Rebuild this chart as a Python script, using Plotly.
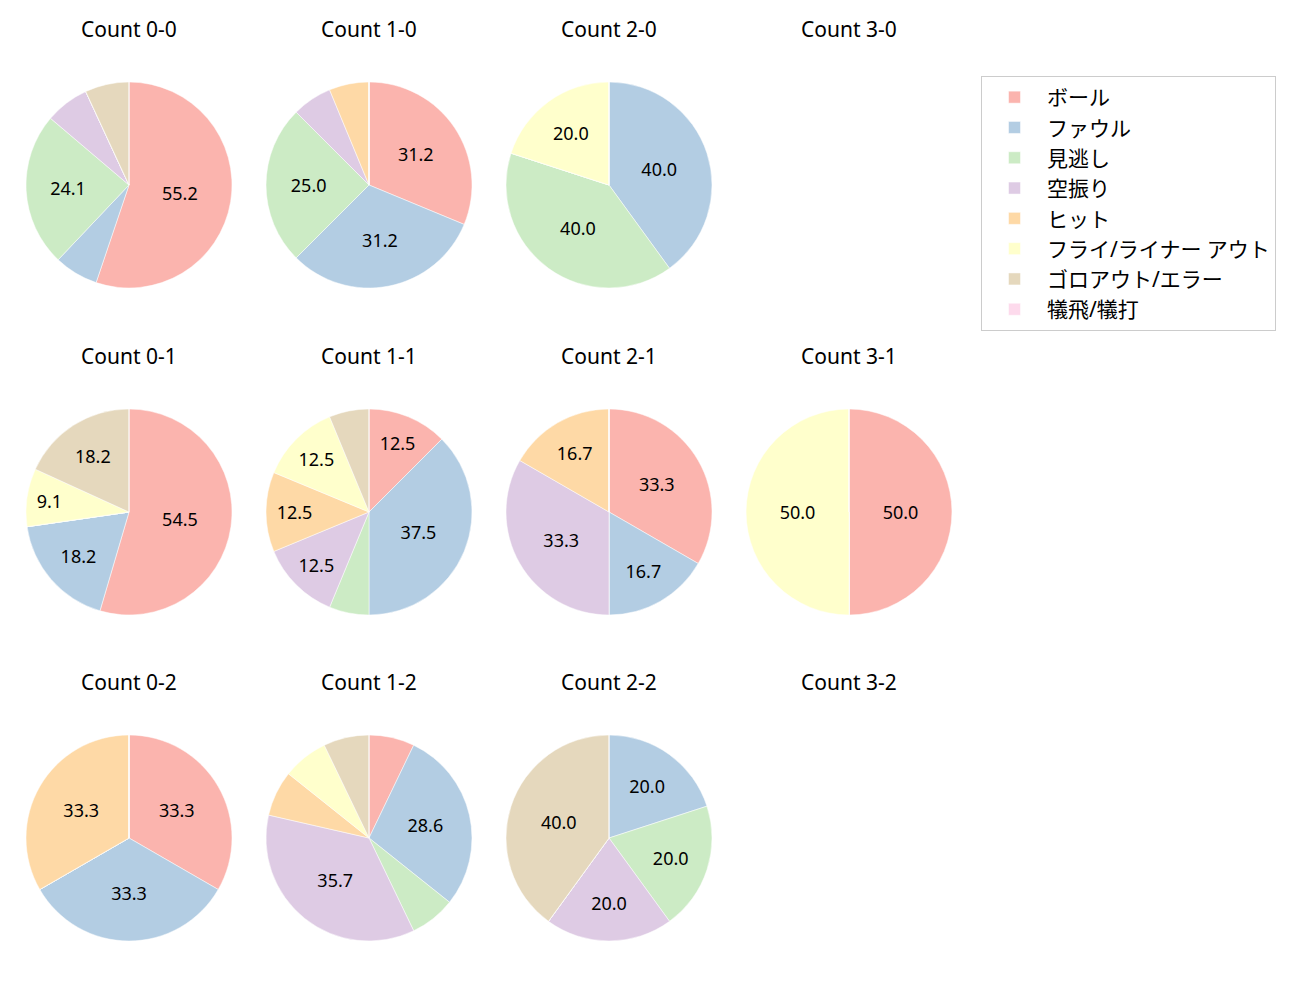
import plotly.graph_objects as go

labels = ["ボール", "ファウル", "見逃し", "空振り", "ヒット",
          "フライ/ライナー アウト", "ゴロアウト/エラー", "犠飛/犠打"]
colors = ["#fbb4ae", "#b3cde3", "#ccebc5", "#decbe4", "#fed9a6",
          "#ffffcc", "#e5d8bd", "#fddaec"]

count_titles = [["Count 0-0", "Count 1-0", "Count 2-0", "Count 3-0"],
                ["Count 0-1", "Count 1-1", "Count 2-1", "Count 3-1"],
                ["Count 0-2", "Count 1-2", "Count 2-2", "Count 3-2"]]

c00 = [16, 2, 7, 2, 0, 0, 2, 0]
c10 = [5, 5, 4, 1, 1, 0, 0, 0]
c20 = [0, 2, 2, 0, 0, 1, 0, 0]
c30 = [0, 0, 0, 0, 0, 0, 0, 0]
c01 = [6, 2, 0, 0, 0, 1, 2, 0]
c11 = [2, 6, 1, 2, 2, 2, 1, 0]
c21 = [2, 1, 0, 2, 1, 0, 0, 0]
c31 = [1, 0, 0, 0, 0, 1, 0, 0]
c02 = [1, 1, 0, 0, 1, 0, 0, 0]
c12 = [1, 4, 1, 5, 1, 1, 1, 0]
c22 = [0, 1, 1, 1, 0, 0, 2, 0]
c32 = [0, 0, 0, 0, 0, 0, 0, 0]

grid = [[c00, c10, c20, c30],
        [c01, c11, c21, c31],
        [c02, c12, c22, c32]]

W, H = 1300, 1000
OFF = 8  # page body margin
col_cx = [129 - OFF, 369 - OFF, 609 - OFF, 849 - OFF]
row_cy = [185 - OFF, 512 - OFF, 838 - OFF]
title_dy = 156
R = 103

FONT = "Noto Sans, Noto Sans CJK JP, sans-serif"

fig = go.Figure()
first = True
for r in range(3):
    for c in range(4):
        vals = grid[r][c]
        cx, cy = col_cx[c], row_cy[r]
        fig.add_annotation(x=cx / W, y=1 - (cy - title_dy) / H,
                           xref="paper", yref="paper", text=count_titles[r][c],
                           showarrow=False, font=dict(size=21, color="black"),
                           xanchor="center", yanchor="middle")
        total = sum(vals)
        if total == 0:
            continue
        texts = []
        for v in vals:
            p = v / total * 100
            texts.append(f"{p:.1f}" if p >= 8 else "")
        fig.add_trace(go.Pie(
            labels=labels, values=vals, text=texts, textinfo="text",
            textposition="inside", insidetextorientation="horizontal",
            textfont=dict(size=18, color="black", family=FONT),
            marker=dict(colors=colors, line=dict(color="white", width=0.5)),
            sort=False, direction="clockwise", rotation=0,
            domain=dict(x=[(cx - R) / W, (cx + R) / W],
                        y=[1 - (cy + R) / H, 1 - (cy - R) / H]),
            showlegend=first, hoverinfo="label+percent",
        ))
        first = False

fig.update_layout(
    width=W, height=H,
    margin=dict(l=0, r=0, t=0, b=0),
    paper_bgcolor="white", plot_bgcolor="white",
    font=dict(family=FONT, size=18, color="black"),
    legend=dict(x=(981 - OFF) / W, y=1 - (76 - OFF) / H,
                xanchor="left", yanchor="top",
                bordercolor="#cccccc", borderwidth=1, bgcolor="white",
                font=dict(size=21, family=FONT), traceorder="normal",
                itemwidth=55, entrywidth=314, entrywidthmode="pixels"),
)

fig.write_html("out.html")
